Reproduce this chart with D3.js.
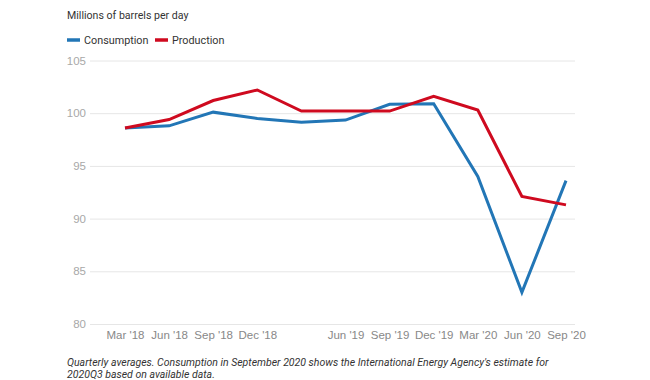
<!DOCTYPE html>
<html><head><meta charset="utf-8">
<script src="https://cdn.jsdelivr.net/npm/d3@7"></script>
<style>
body{margin:0;background:#fff;}
svg{display:block;font-family:Roboto, "Liberation Sans", Arial, sans-serif;}
</style></head>
<body>
<svg id="chart" width="650" height="380"></svg>
<script>
const quarters = ["Mar '18","Jun '18","Sep '18","Dec '18","Mar '19","Jun '19","Sep '19","Dec '19","Mar '20","Jun '20","Sep '20"];
const tickLabels = ["Mar '18","Jun '18","Sep '18","Dec '18","","Jun '19","Sep '19","Dec '19","Mar '20","Jun '20","Sep '20"];
const consumption = [98.6, 98.8, 100.1, 99.5, 99.15, 99.35, 100.85, 100.9, 94.0, 83.0, 93.6];
const production  = [98.6, 99.4, 101.2, 102.2, 100.2, 100.2, 100.2, 101.6, 100.3, 92.1, 91.3];
const yTicks = [80, 85, 90, 95, 100, 105];
const seriesNames = ["Consumption","Production"];
const seriesColors = ["#2276b6","#cf0a1f"];

const svg = d3.select("#chart");
const x = d3.scalePoint().domain(quarters).range([125, 566]);
const y = d3.scaleLinear().domain([80, 105]).range([324, 60.5]);

// gridlines + y labels
const yAxis = d3.axisLeft(y).tickValues(yTicks).tickSize(-(575-90)).tickPadding(4);
const gy = svg.append("g").attr("transform","translate(90,0)").call(yAxis);
gy.select(".domain").remove();
gy.selectAll(".tick line").attr("stroke","#e6e6e6").attr("stroke-width",1);
gy.selectAll(".tick text").attr("fill","#a8a8a8").attr("font-size","11.5px").attr("x",-4);

// x axis labels
const xAxis = d3.axisBottom(x).tickSize(0).tickPadding(0).tickFormat((d,i)=>tickLabels[i]);
const gx = svg.append("g").attr("transform","translate(0,331)").call(xAxis);
gx.select(".domain").remove();
gx.selectAll(".tick text").attr("fill","#888").attr("font-size","11.5px");

// lines
const line = d3.line().x((d,i)=>x(quarters[i])).y(d=>y(d));
[consumption, production].forEach((s,k)=>{
  svg.append("path").datum(s).attr("d",line).attr("fill","none")
    .attr("stroke",seriesColors[k]).attr("stroke-width",3).attr("stroke-linejoin","miter");
});

// title
svg.append("text").attr("x",67).attr("y",19).attr("font-size","10.6px").attr("fill","#333").text("Millions of barrels per day");

// legend
const lg = svg.append("g");
const legX = [67, 155];
seriesNames.forEach((n,k)=>{
  lg.append("line").attr("x1",legX[k]).attr("x2",legX[k]+13).attr("y1",40).attr("y2",40)
    .attr("stroke",seriesColors[k]).attr("stroke-width",3.5);
  lg.append("text").attr("x",legX[k]+17).attr("y",44).attr("font-size","10.8px").attr("fill","#333").text(n);
});

// footnote
svg.append("text").attr("x",67).attr("y",365.5).attr("font-size","10.5px").attr("font-style","italic").attr("fill","#333")
  .text("Quarterly averages. Consumption in September 2020 shows the International Energy Agency's estimate for");
svg.append("text").attr("x",67).attr("y",377.5).attr("font-size","10.5px").attr("font-style","italic").attr("fill","#333")
  .text("2020Q3 based on available data.");
</script>
</body></html>
